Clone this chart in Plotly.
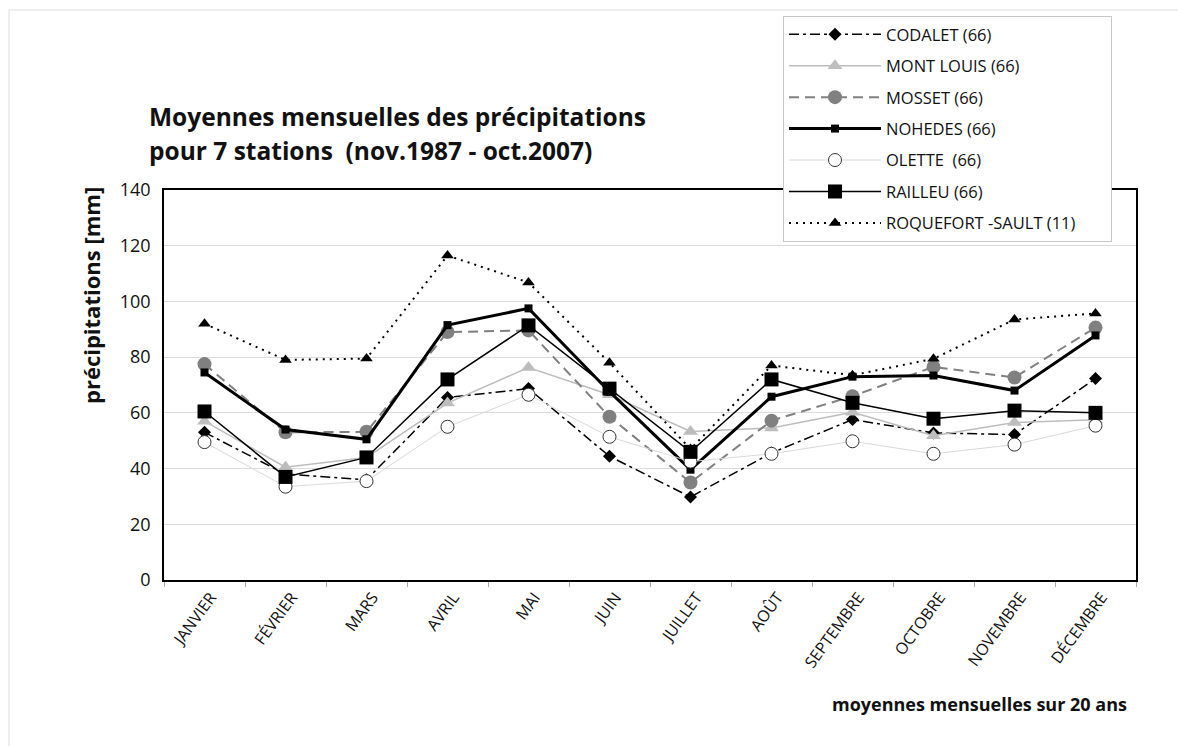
import plotly.graph_objects as go

months = ["JANVIER", "FÉVRIER", "MARS", "AVRIL", "MAI", "JUIN",
          "JUILLET", "AOÛT", "SEPTEMBRE", "OCTOBRE", "NOVEMBRE", "DÉCEMBRE"]

codalet = [53, 38, 36, 65.5, 68.7, 44.4, 29.8, 45.6, 57.6, 52.8, 52.2, 72.3]
mont_louis = [57, 40.5, 44, 63.5, 76.3, 66.5, 53.3, 54.6, 60.2, 51.8, 56.5, 57.5]
mosset = [77.5, 53, 53.2, 89, 89.6, 58.6, 35, 57.2, 66, 76.5, 72.7, 90.6]
nohedes = [74.5, 54, 50.5, 91.5, 97.5, 67.6, 39.6, 65.8, 73, 73.4, 68, 87.8]
olette = [49.5, 33.5, 35.5, 55, 66.5, 51.4, 42.5, 45.3, 49.8, 45.3, 48.6, 55.4]
railleu = [60.5, 37, 44, 72, 91.4, 68.7, 46, 72, 63.6, 57.9, 60.8, 60]
roquefort = [92, 79, 79.5, 116.5, 106.8, 78, 47, 77, 73.5, 79.4, 93.5, 95.7]

FONT = "Open Sans"
PAD = "\u00a0" * 7  # right-hand breathing room inside the legend box

series = [
    ("CODALET (66)", codalet,
     dict(color="black", width=1.5, dash="10px,4px,3px,4px"),
     dict(symbol="diamond", size=10, color="black")),
    ("MONT LOUIS (66)", mont_louis,
     dict(color="#bdbdbd", width=1.5),
     dict(symbol="triangle-up", size=13, color="#bdbdbd")),
    ("MOSSET (66)", mosset,
     dict(color="#808080", width=2, dash="10px,6px"),
     dict(symbol="circle", size=14, color="#808080")),
    ("NOHEDES (66)", nohedes,
     dict(color="black", width=3),
     dict(symbol="square", size=8, color="black")),
    ("OLETTE  (66)", olette,
     dict(color="#d9d9d9", width=1),
     dict(symbol="circle", size=13, color="white",
          line=dict(color="#333333", width=1))),
    ("RAILLEU (66)", railleu,
     dict(color="black", width=1.5),
     dict(symbol="square", size=14, color="black")),
    ("ROQUEFORT -SAULT (11)" + PAD, roquefort,
     dict(color="black", width=2, dash="2px,5px"),
     dict(symbol="triangle-up", size=11, color="black")),
]

fig = go.Figure()
for i, (name, vals, line, marker) in enumerate(series):
    fig.add_trace(go.Scatter(
        x=months, y=vals, name=name, mode="lines+markers",
        line=line, marker=marker, legendgroup=f"g{i}",
    ))

# plot area spans x 164..1136 px and y 190..580 px
def px(xp):
    return (xp - 164) / 972

def py(yp):
    return (580 - yp) / 390

fig.update_layout(
    width=1178, height=746,
    margin=dict(l=164, r=42, t=190, b=166),
    paper_bgcolor="white", plot_bgcolor="white",
    font=dict(family=FONT, color="#111111"),
    showlegend=True,
    legend=dict(
        x=px(783), y=py(16), xanchor="left", yanchor="top",
        bgcolor="white", bordercolor="#c8c8c8", borderwidth=1,
        font=dict(family=FONT, size=16.5, color="#111111"),
        tracegroupgap=7, itemwidth=92,
    ),
    xaxis=dict(
        range=[-0.5, 11.5],
        showline=True, linecolor="black", linewidth=1.5, mirror=True,
        showgrid=False, ticks="outside", tickson="boundaries",
        ticklen=5, tickcolor="#aaaaaa", tickangle=-54,
        ticklabelshift=6,
        tickfont=dict(family=FONT, size=16, color="#111111"),
    ),
    yaxis=dict(
        range=[0, 140], dtick=20, showline=True, linecolor="black",
        linewidth=1.5, mirror=True, showgrid=True, gridcolor="#dcdcdc",
        gridwidth=1, ticks="", zeroline=False, ticklabelstandoff=8,
        tickfont=dict(family=FONT, size=18, color="#111111"),
    ),
    annotations=[
        dict(text="<b>Moyennes mensuelles des précipitations</b>",
             xref="paper", yref="paper", x=px(147), y=py(116),
             xanchor="left", yanchor="middle", align="left",
             showarrow=False, font=dict(family=FONT, size=24.5, color="#111111")),
        dict(text="<b>pour 7 stations  (nov.1987 - oct.2007)</b>",
             xref="paper", yref="paper", x=px(147), y=py(151),
             xanchor="left", yanchor="middle", align="left",
             showarrow=False, font=dict(family=FONT, size=24.5, color="#111111")),
        dict(text="<b>précipitations [mm]</b>", textangle=-90,
             xref="paper", yref="paper", x=px(91), y=py(296),
             xanchor="center", yanchor="middle", showarrow=False,
             font=dict(family=FONT, size=22, color="#111111")),
        dict(text="<b>moyennes mensuelles sur 20 ans</b>",
             xref="paper", yref="paper", x=px(1129), y=py(704),
             xanchor="right", yanchor="middle", showarrow=False,
             font=dict(family=FONT, size=18, color="#111111")),
    ],
    shapes=[
        dict(type="rect", xref="paper", yref="paper",
             x0=px(9), x1=px(1200), y0=py(770), y1=py(10),
             line=dict(color="#dddddd", width=1), layer="below"),
    ],
)

fig.write_html("out.html")
